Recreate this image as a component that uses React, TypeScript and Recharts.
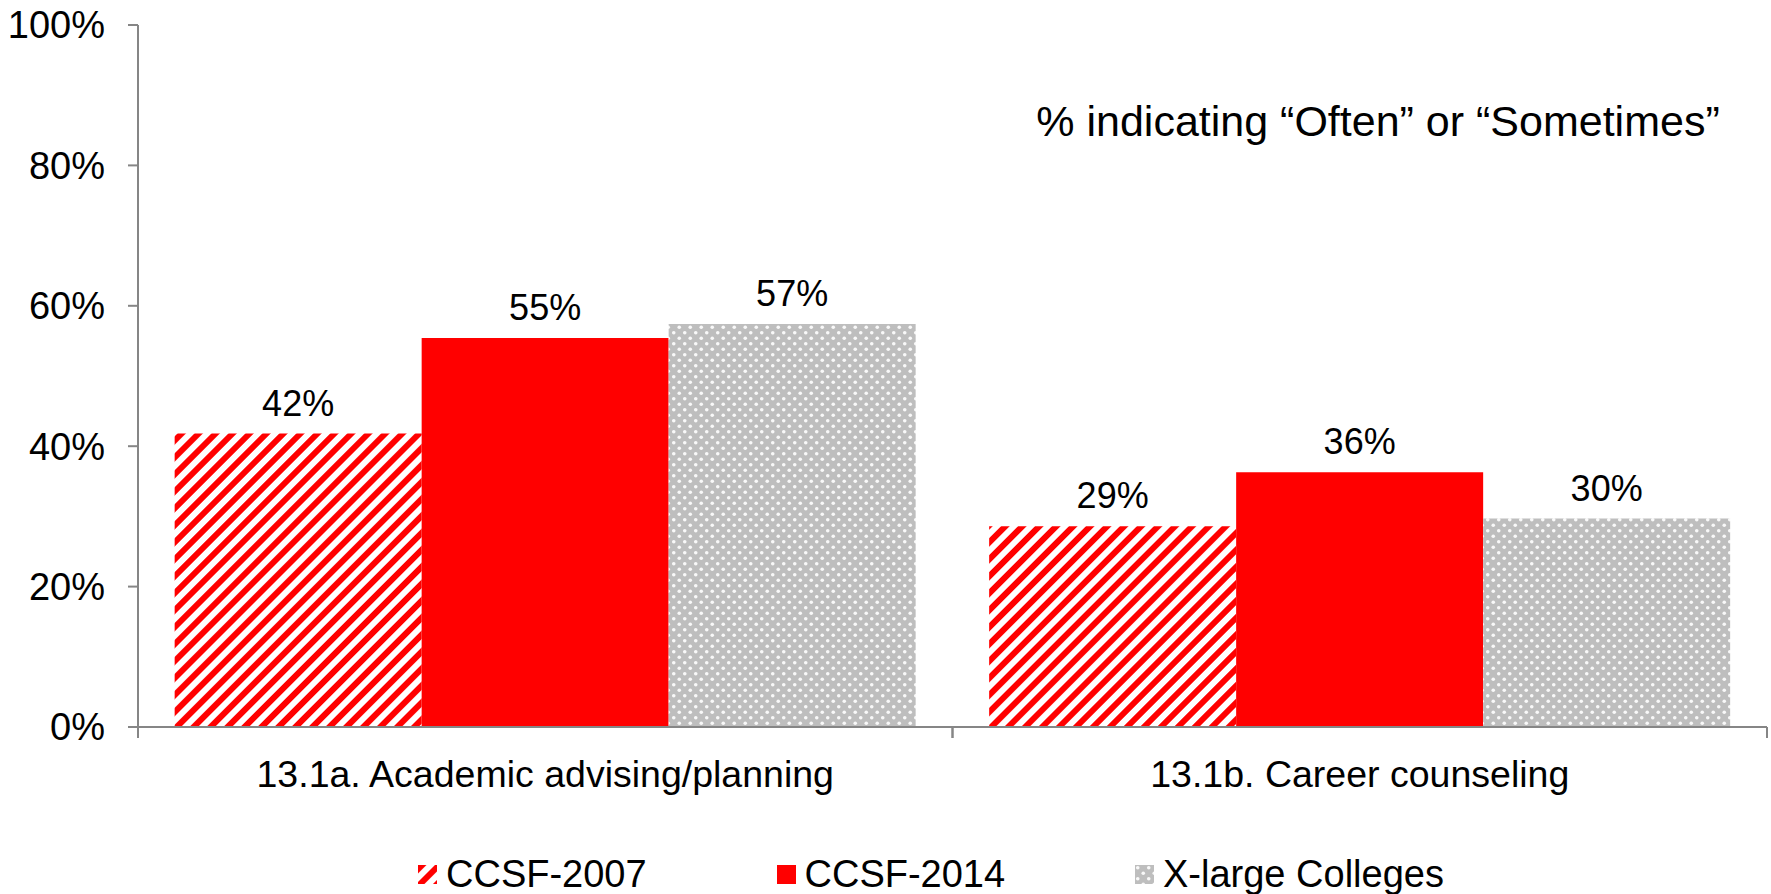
import { BarChart, Bar, XAxis, YAxis, Legend, LabelList } from 'recharts';

const categories = ['13.1a. Academic advising/planning', '13.1b. Career counseling'];
const ccsf2007 = [41.8, 28.6];
const ccsf2014 = [55.4, 36.3];
const xlargeColleges = [57.4, 29.7];
const yTicks = [0, 20, 40, 60, 80, 100];
const seriesNames = ['CCSF-2007', 'CCSF-2014', 'X-large Colleges'];
const note = '% indicating \u201COften\u201D or \u201CSometimes\u201D';

const data = categories.map((name, i) => ({
  name,
  c2007: ccsf2007[i],
  c2014: ccsf2014[i],
  xlarge: xlargeColleges[i],
}));

const FONT = '"Liberation Sans", Arial, sans-serif';
const AXIS = '#868686';
const RED = '#FF0000';
const fills = ['url(#hatch)', RED, 'url(#dots)'];

function CategoryTick(props: any) {
  const { x, y, payload } = props;
  const half = payload && payload.offset ? payload.offset : 407;
  return (
    <g>
      <line x1={x - half} x2={x - half} y1={y} y2={y + 11} stroke={AXIS} strokeWidth={2} />
      <line x1={x + half} x2={x + half} y1={y} y2={y + 11} stroke={AXIS} strokeWidth={2} />
      <text x={x} y={y + 60} textAnchor="middle" fontSize={37.5} fontFamily={FONT} fill="#000">
        {payload.value}
      </text>
    </g>
  );
}

function LegendContent() {
  return (
    <div style={{ height: 40, display: 'flex', alignItems: 'center', paddingLeft: 418, fontFamily: FONT, fontSize: 38 }}>
      {seriesNames.map((n, i) => (
        <div key={n} style={{ width: 358.5, display: 'flex', alignItems: 'center' }}>
          <svg width={19} height={19} style={{ marginRight: 9 }}>
            <rect width={19} height={19} fill={fills[i]} />
          </svg>
          <span style={{ color: '#000', lineHeight: '40px' }}>{n}</span>
        </div>
      ))}
    </div>
  );
}

export default function App() {
  return (
    <div style={{ position: 'absolute', left: 0, top: 0 }}>
      <BarChart
        width={1771}
        height={894}
        data={data}
        margin={{ top: 25, right: 4, bottom: 0, left: 0 }}
        barCategoryGap="4.5%"
        barGap={0}
      >
        <defs>
          <pattern id="hatch" patternUnits="userSpaceOnUse" width={12} height={12} patternTransform="rotate(45)">
            <rect width={12} height={12} fill="#fff" />
            <rect width={6} height={12} fill={RED} />
          </pattern>
          <pattern id="dots" patternUnits="userSpaceOnUse" width={11} height={11}>
            <rect width={11} height={11} fill="#BEBEBE" />
            <circle cx={2.75} cy={2.75} r={1.8} fill="#fff" fillOpacity={0.9} />
            <circle cx={8.25} cy={8.25} r={1.8} fill="#fff" fillOpacity={0.9} />
          </pattern>
        </defs>
        <XAxis
          dataKey="name"
          height={127}
          axisLine={{ stroke: AXIS, strokeWidth: 2 }}
          tickLine={false}
          tickSize={0}
          tickMargin={0}
          tick={<CategoryTick />}
          interval={0}
        />
        <YAxis
          width={138}
          domain={[0, 100]}
          ticks={yTicks}
          interval={0}
          tickFormatter={(v: number) => `${v}%`}
          axisLine={{ stroke: AXIS, strokeWidth: 2 }}
          tickLine={{ stroke: AXIS, strokeWidth: 2 }}
          tickSize={10}
          tickMargin={23}
          tick={{ fill: '#000', fontSize: 38, fontFamily: FONT }}
        />
        <Legend verticalAlign="bottom" content={<LegendContent />} />
        <Bar dataKey="c2007" name={seriesNames[0]} fill={fills[0]} isAnimationActive={false}>
          <LabelList dataKey="c2007" position="top" offset={18} formatter={(v: any) => `${Math.round(v)}%`} style={{ fontSize: 36, fontFamily: FONT, fill: '#000' }} />
        </Bar>
        <Bar dataKey="c2014" name={seriesNames[1]} fill={fills[1]} isAnimationActive={false}>
          <LabelList dataKey="c2014" position="top" offset={18} formatter={(v: any) => `${Math.round(v)}%`} style={{ fontSize: 36, fontFamily: FONT, fill: '#000' }} />
        </Bar>
        <Bar dataKey="xlarge" name={seriesNames[2]} fill={fills[2]} isAnimationActive={false}>
          <LabelList dataKey="xlarge" position="top" offset={18} formatter={(v: any) => `${Math.round(v)}%`} style={{ fontSize: 36, fontFamily: FONT, fill: '#000' }} />
        </Bar>
        <text x={1378} y={136} textAnchor="middle" fontSize={43} fontFamily={FONT} fill="#000">
          {note}
        </text>
      </BarChart>
    </div>
  );
}
